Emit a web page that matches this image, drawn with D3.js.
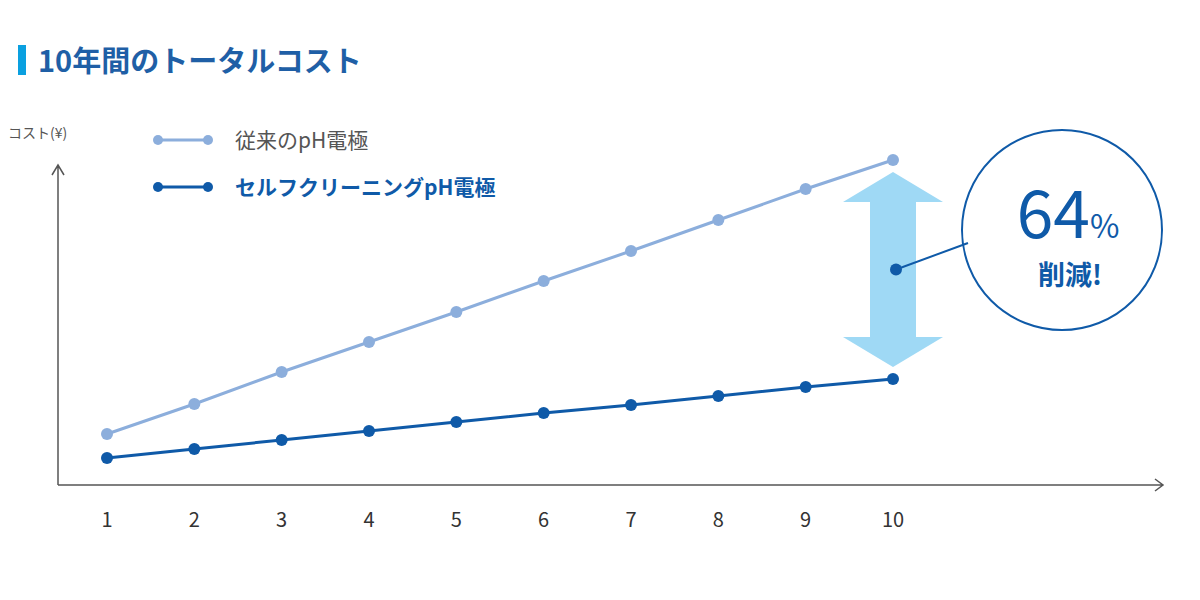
<!DOCTYPE html>
<html><head><meta charset="utf-8">
<script src="https://cdn.jsdelivr.net/npm/d3@7"></script>
<style>body{margin:0;background:#fff}text{font-family:"Noto Sans CJK JP",sans-serif}</style>
</head><body><svg id="c" width="1200" height="600"></svg>
<script>
const years = [1,2,3,4,5,6,7,8,9,10];
const conventional = [51,81,113,143,173,204,234,265,296,325];
const selfCleaning = [27,36,45,54,63,72,80,89,98,106];
const seriesNames = ["従来のpH電極","セルフクリーニングpH電極"];
const colors = ["#8caedc","#0f5aa8"];

const svg = d3.select("#c");
const x = d3.scaleLinear().domain([1,10]).range([107,893]);
const y = d3.scaleLinear().domain([0,325]).range([485,160]);

// title
svg.append("rect").attr("x",18).attr("y",45).attr("width",8).attr("height",30).attr("fill","#0aa0e0");
svg.append("text").attr("x",38).attr("y",72).attr("font-size",29).attr("font-weight","bold").attr("fill","#1f5fa6").text("10年間のトータルコスト");

// axes
const ax = svg.append("g").attr("stroke","#555").attr("stroke-width",1.5).attr("fill","none");
ax.append("path").attr("d","M58,485 V165 M52,175 L58,165 L64,175");
ax.append("path").attr("d","M58,485 H1163 M1155,479 L1163,485 L1155,491");
svg.append("text").attr("x",8).attr("y",138).attr("font-size",14).attr("fill","#555").text("コスト(¥)");
svg.selectAll(".tk").data(years).join("text").attr("x",d=>x(d)).attr("y",527).attr("text-anchor","middle")
  .attr("font-size",20).attr("font-family","Roboto,sans-serif").attr("fill","#333").text(d=>d);

// arrow
const ax10 = x(10);
const aTop = y(conventional[9])+12, aBot = y(selfCleaning[9])-12;
svg.append("path").attr("fill","#9fd9f5")
  .attr("d",`M${ax10},${aTop} L${ax10+50},${aTop+30} L${ax10+23},${aTop+30} L${ax10+23},${aBot-30} L${ax10+50},${aBot-30} L${ax10},${aBot} L${ax10-50},${aBot-30} L${ax10-23},${aBot-30} L${ax10-23},${aTop+30} L${ax10-50},${aTop+30} Z`);

// series
const line = d3.line().x((d,i)=>x(years[i])).y(d=>y(d));
[conventional,selfCleaning].forEach((s,k)=>{
  svg.append("path").datum(s).attr("d",line).attr("fill","none").attr("stroke",colors[k]).attr("stroke-width",3);
  svg.selectAll(".p"+k).data(s).join("circle").attr("cx",(d,i)=>x(years[i])).attr("cy",d=>y(d)).attr("r",6).attr("fill",colors[k]);
});

// legend
seriesNames.forEach((n,k)=>{
  const ly = 140+k*47;
  svg.append("line").attr("x1",158).attr("x2",208).attr("y1",ly).attr("y2",ly).attr("stroke",colors[k]).attr("stroke-width",3);
  svg.append("circle").attr("cx",158).attr("cy",ly).attr("r",5).attr("fill",colors[k]);
  svg.append("circle").attr("cx",208).attr("cy",ly).attr("r",5).attr("fill",colors[k]);
  svg.append("text").attr("x",235).attr("y",ly+8).attr("font-size",21).attr("font-weight",k?"bold":"normal")
    .attr("fill",k?"#0f5aa8":"#555").text(n);
});

// callout
const cx=1062, cy=230, r=100, mx=(y(conventional[9])+y(selfCleaning[9]))/2;
svg.append("circle").attr("cx",cx).attr("cy",cy).attr("r",r).attr("fill","#fff").attr("stroke","#0f5aa8").attr("stroke-width",2);
svg.append("line").attr("x1",ax10+3).attr("y1",mx).attr("x2",968).attr("y2",243).attr("stroke","#0f5aa8").attr("stroke-width",2);
svg.append("circle").attr("cx",ax10+3).attr("cy",mx).attr("r",6).attr("fill","#0f5aa8");
const t=svg.append("text").attr("x",1068).attr("y",238).attr("text-anchor","middle").attr("fill","#0f5aa8").attr("font-family","Roboto,sans-serif");
t.append("tspan").attr("font-size",66).text("64");
t.append("tspan").attr("font-size",32).text("%");
svg.append("text").attr("x",1070).attr("y",285).attr("text-anchor","middle").attr("font-size",27).attr("font-weight","bold").attr("fill","#0f5aa8").text("削減!");
</script></body></html>
